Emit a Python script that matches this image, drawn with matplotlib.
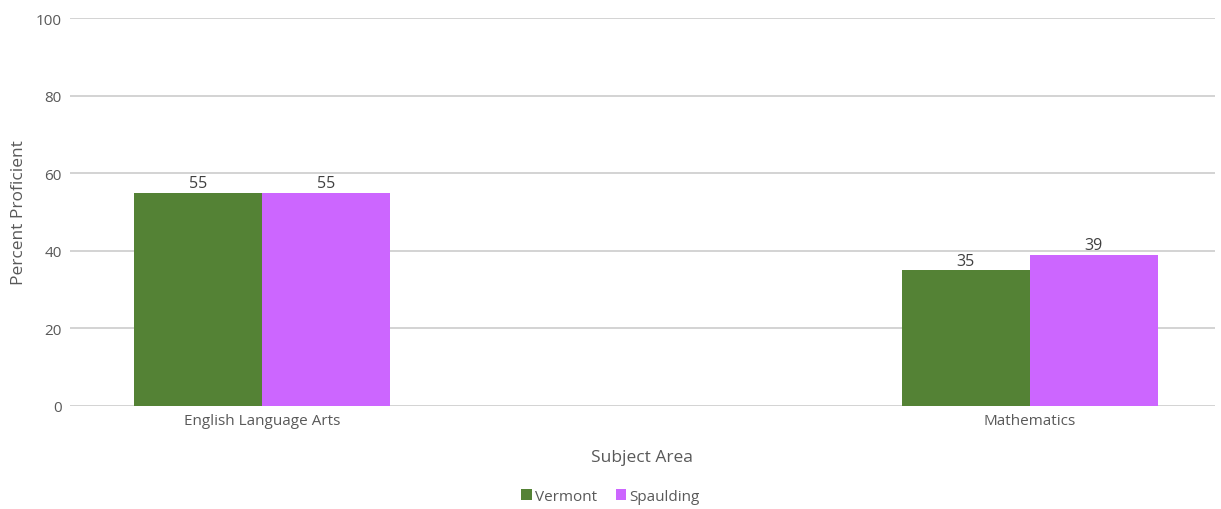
import numpy as np
import matplotlib.pyplot as plt

# chart data
subjects = ["English Language Arts", "Mathematics"]
vermont = [55, 35]
spaulding = [55, 39]
yticks = [0, 20, 40, 60, 80, 100]

plt.rcParams["font.family"] = ["Open Sans", "DejaVu Sans"]
text_color = "#595959"

fig = plt.figure(figsize=(12.21, 5.10), dpi=100)
ax = fig.add_axes([0.0573, 0.202, 0.9377, 0.7607])

x = np.arange(len(subjects))
width = 0.1667
b1 = ax.bar(x - width / 2, vermont, width, color="#548235", label="Vermont", zorder=3)
b2 = ax.bar(x + width / 2, spaulding, width, color="#CC66FF", label="Spaulding", zorder=3)

for bars in (b1, b2):
    ax.bar_label(bars, padding=1, fontsize=11.5, color="#404040")

ax.set_xlim(-0.25, 1.241)
ax.set_ylim(0, 100)
ax.set_yticks(yticks)
ax.set_xticks(x)
ax.set_xticklabels(subjects)
ax.tick_params(axis="both", length=0, labelsize=11, labelcolor=text_color)
ax.tick_params(axis="y", pad=6)
ax.tick_params(axis="x", pad=5)
ax.grid(axis="y", color="#d0d0d0", linewidth=1.3, zorder=0)
for s in ax.spines.values():
    s.set_visible(False)

ax.set_ylabel("Percent Proficient", fontsize=12.5, color=text_color, labelpad=6)
ax.set_xlabel("Subject Area", fontsize=12.5, color=text_color, labelpad=15)

fig.legend(loc="center", bbox_to_anchor=(0.5, 0.025), ncol=2, frameon=False,
           fontsize=11, labelcolor=text_color, handlelength=0.7, handleheight=0.7,
           handletextpad=0.2, columnspacing=1.2)

fig.savefig("out.png", dpi=100)
